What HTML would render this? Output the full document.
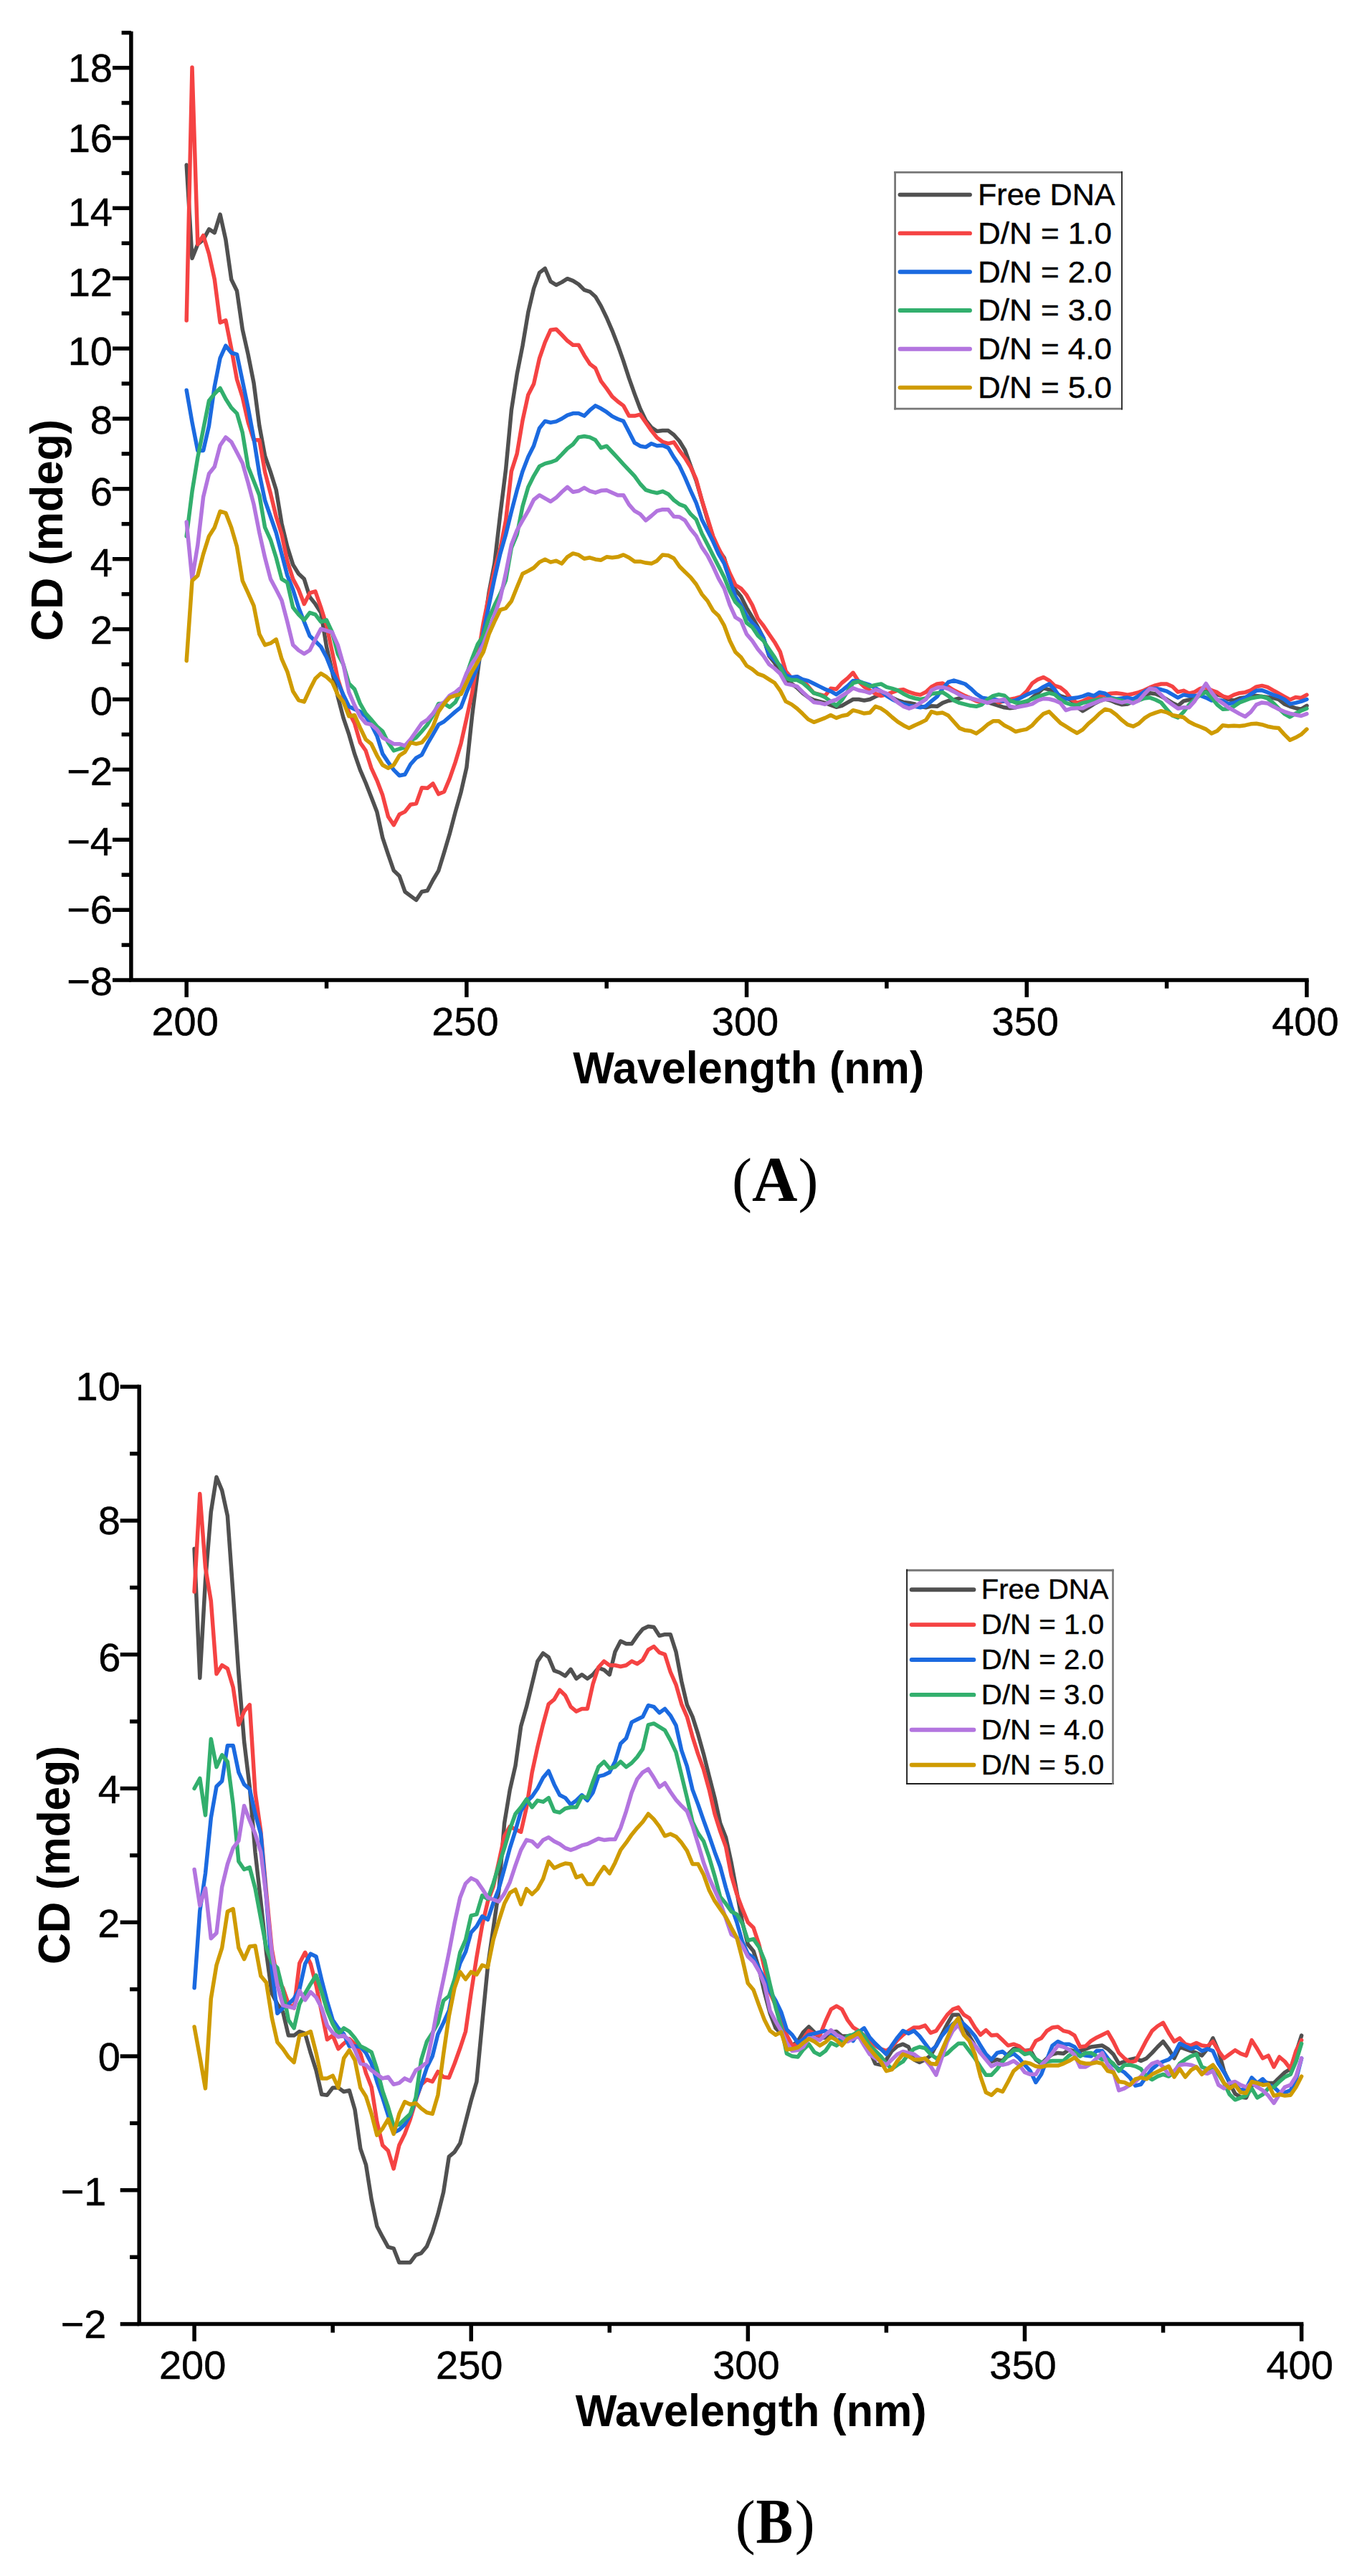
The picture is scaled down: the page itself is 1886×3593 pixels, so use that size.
<!DOCTYPE html><html><head><meta charset="utf-8"><title>CD spectra</title><style>html,body{margin:0;padding:0;background:#fff}svg{display:block}</style></head><body>
<svg xmlns="http://www.w3.org/2000/svg" width="1886" height="3593" viewBox="0 0 1886 3593">
<rect width="1886" height="3593" fill="#fff"/>
<polyline fill="none" stroke="#505050" stroke-width="5.5" stroke-linejoin="round" stroke-linecap="round" points="260.2,230.1 268.0,360.3 275.8,340.7 283.6,334.4 291.5,319.7 299.3,324.6 307.1,299.1 314.9,334.4 322.7,389.7 330.5,405.8 338.3,459.7 346.1,494.4 354.0,534.1 361.8,593.8 369.6,635.9 377.4,658.4 385.2,683.3 393.0,730.3 400.8,762.6 408.7,787.6 416.5,800.3 424.3,807.6 432.1,832.6 439.9,842.4 447.7,854.6 455.5,902.1 463.4,936.8 471.2,971.6 479.0,1001.4 486.8,1024.4 494.6,1051.4 502.4,1073.9 510.2,1092.0 518.0,1112.0 525.9,1132.6 533.7,1168.3 541.5,1191.8 549.3,1214.3 557.1,1221.7 564.9,1243.7 572.7,1249.6 580.6,1255.4 588.4,1243.7 596.2,1242.2 604.0,1227.5 611.8,1214.3 619.6,1188.9 627.4,1162.5 635.2,1132.6 643.1,1104.7 650.9,1070.4 658.7,997.5 666.5,936.3 674.3,880.1 682.1,826.2 689.9,785.6 697.8,717.6 705.6,654.9 713.4,572.2 721.2,521.8 729.0,482.2 736.8,435.7 744.6,402.4 752.5,380.4 760.3,374.5 768.1,392.6 775.9,397.5 783.7,393.6 791.5,388.7 799.3,391.6 807.1,396.5 815.0,404.4 822.8,406.8 830.6,413.7 838.4,426.9 846.2,443.0 854.0,461.1 861.8,481.2 869.7,503.7 877.5,527.7 885.3,549.7 893.1,570.3 900.9,586.4 908.7,596.2 916.5,601.6 924.3,600.6 932.2,600.6 940.0,606.5 947.8,615.3 955.6,628.0 963.4,649.6 971.2,670.6 979.0,697.5 986.9,724.4 994.7,749.4 1002.5,767.0 1010.3,778.3 1018.1,805.7 1025.9,822.8 1033.7,832.1 1041.5,847.8 1049.4,861.0 1057.2,874.7 1065.0,889.9 1072.8,914.8 1080.6,924.6 1088.4,936.3 1096.2,947.6 1104.1,953.5 1111.9,959.3 1119.7,966.7 1127.5,972.6 1135.3,976.5 1143.1,978.4 1150.9,980.4 1158.8,983.3 1166.6,986.3 1174.4,984.3 1182.2,979.9 1190.0,975.5 1197.8,975.5 1205.6,977.0 1213.4,975.5 1221.3,971.6 1229.1,968.2 1236.9,968.6 1244.7,973.1 1252.5,977.0 1260.3,979.4 1268.1,980.4 1276.0,981.9 1283.8,985.3 1291.6,986.8 1299.4,984.8 1307.2,985.3 1315.0,980.4 1322.8,977.5 1330.6,976.0 1338.5,974.0 1346.3,971.6 1354.1,974.0 1361.9,977.0 1369.7,977.9 1377.5,979.4 1385.3,981.9 1393.2,984.3 1401.0,986.8 1408.8,987.7 1416.6,986.8 1424.4,982.8 1432.2,979.4 1440.0,973.1 1447.9,966.7 1455.7,959.8 1463.5,961.8 1471.3,965.7 1479.1,970.6 1486.9,973.1 1494.7,977.0 1502.5,986.3 1510.4,991.7 1518.2,986.8 1526.0,981.9 1533.8,977.9 1541.6,975.0 1549.4,977.0 1557.2,980.4 1565.1,982.8 1572.9,981.9 1580.7,978.4 1588.5,976.0 1596.3,970.6 1604.1,966.7 1611.9,967.7 1619.7,971.1 1627.6,975.5 1635.4,980.4 1643.2,984.3 1651.0,977.9 1658.8,976.0 1666.6,973.1 1674.4,968.2 1682.3,964.2 1690.1,965.7 1697.9,968.6 1705.7,971.1 1713.5,975.5 1721.3,977.0 1729.1,974.0 1737.0,972.6 1744.8,971.1 1752.6,970.6 1760.4,971.6 1768.2,972.6 1776.0,973.5 1783.8,975.5 1791.6,981.9 1799.5,985.3 1807.3,987.7 1815.1,989.2 1822.9,984.3"/>
<polyline fill="none" stroke="#F54343" stroke-width="5.5" stroke-linejoin="round" stroke-linecap="round" points="260.2,446.9 268.0,94.1 275.8,340.7 283.6,328.5 291.5,354.0 299.3,389.7 307.1,449.9 314.9,446.9 322.7,486.1 330.5,529.2 338.3,554.1 346.1,588.9 354.0,613.8 361.8,613.8 369.6,658.4 377.4,688.2 385.2,720.5 393.0,745.5 400.8,782.7 408.7,807.6 416.5,822.3 424.3,842.4 432.1,827.2 439.9,824.8 447.7,847.3 455.5,872.2 463.4,909.4 471.2,946.6 479.0,971.6 486.8,993.6 494.6,1008.8 502.4,1035.7 510.2,1047.0 518.0,1071.4 525.9,1088.6 533.7,1109.1 541.5,1139.0 549.3,1150.7 557.1,1136.0 564.9,1132.1 572.7,1122.3 580.6,1120.9 588.4,1098.8 596.2,1099.3 604.0,1093.0 611.8,1107.6 619.6,1104.2 627.4,1085.6 635.2,1063.1 643.1,1036.7 650.9,1001.9 658.7,965.7 666.5,916.3 674.3,868.8 682.1,830.6 689.9,794.4 697.8,765.5 705.6,725.9 713.4,657.4 721.2,632.9 729.0,586.4 736.8,550.7 744.6,535.5 752.5,499.8 760.3,477.3 768.1,460.2 775.9,459.2 783.7,467.0 791.5,475.3 799.3,481.2 807.1,481.2 815.0,495.4 822.8,507.6 830.6,513.5 838.4,531.6 846.2,541.9 854.0,553.1 861.8,560.0 869.7,565.9 877.5,580.1 885.3,580.1 893.1,578.1 900.9,589.4 908.7,600.6 916.5,610.4 924.3,616.3 932.2,618.7 940.0,616.8 947.8,628.5 955.6,638.8 963.4,651.5 971.2,668.6 979.0,697.5 986.9,722.5 994.7,747.9 1002.5,765.1 1010.3,780.2 1018.1,799.8 1025.9,816.0 1033.7,820.8 1041.5,830.1 1049.4,843.9 1057.2,862.9 1065.0,872.7 1072.8,884.5 1080.6,895.7 1088.4,909.4 1096.2,936.3 1104.1,945.6 1111.9,943.7 1119.7,948.6 1127.5,957.4 1135.3,966.7 1143.1,968.6 1150.9,970.6 1158.8,960.3 1166.6,961.3 1174.4,952.5 1182.2,946.1 1190.0,938.3 1197.8,950.5 1205.6,957.9 1213.4,962.8 1221.3,967.7 1229.1,970.6 1236.9,968.6 1244.7,965.7 1252.5,962.8 1260.3,961.8 1268.1,965.2 1276.0,967.7 1283.8,969.1 1291.6,965.2 1299.4,957.9 1307.2,954.0 1315.0,953.0 1322.8,957.9 1330.6,962.8 1338.5,966.7 1346.3,970.6 1354.1,974.0 1361.9,977.9 1369.7,979.9 1377.5,975.5 1385.3,975.0 1393.2,979.9 1401.0,977.9 1408.8,975.5 1416.6,974.0 1424.4,971.6 1432.2,964.2 1440.0,953.0 1447.9,947.6 1455.7,944.7 1463.5,949.1 1471.3,956.4 1479.1,958.9 1486.9,965.2 1494.7,975.5 1502.5,980.4 1510.4,977.9 1518.2,974.0 1526.0,973.1 1533.8,971.1 1541.6,969.1 1549.4,967.2 1557.2,966.7 1565.1,967.7 1572.9,969.1 1580.7,967.7 1588.5,965.7 1596.3,962.8 1604.1,958.9 1611.9,955.9 1619.7,954.0 1627.6,954.0 1635.4,957.4 1643.2,965.2 1651.0,963.3 1658.8,967.2 1666.6,965.2 1674.4,960.3 1682.3,958.4 1690.1,962.8 1697.9,965.7 1705.7,971.1 1713.5,973.1 1721.3,969.1 1729.1,966.7 1737.0,965.7 1744.8,962.8 1752.6,957.9 1760.4,956.4 1768.2,958.4 1776.0,962.8 1783.8,967.2 1791.6,971.6 1799.5,976.0 1807.3,972.6 1815.1,973.5 1822.9,969.1"/>
<polyline fill="none" stroke="#1B6AE0" stroke-width="5.5" stroke-linejoin="round" stroke-linecap="round" points="260.2,544.3 268.0,588.9 275.8,628.5 283.6,628.5 291.5,593.8 299.3,539.0 307.1,499.3 314.9,482.2 322.7,492.0 330.5,494.4 338.3,531.6 346.1,568.8 354.0,611.4 361.8,660.8 369.6,698.0 377.4,720.5 385.2,743.0 393.0,772.9 400.8,802.7 408.7,822.3 416.5,847.3 424.3,867.3 432.1,886.9 439.9,894.3 447.7,902.1 455.5,916.8 463.4,936.8 471.2,951.5 479.0,969.1 486.8,985.3 494.6,989.2 502.4,992.6 510.2,999.5 518.0,1010.7 525.9,1026.4 533.7,1051.4 541.5,1063.1 549.3,1073.9 557.1,1081.7 564.9,1080.2 572.7,1066.0 580.6,1057.2 588.4,1052.8 596.2,1037.7 604.0,1024.4 611.8,1010.7 619.6,1006.3 627.4,999.5 635.2,992.6 643.1,986.3 650.9,965.7 658.7,947.6 666.5,929.5 674.3,882.0 682.1,843.9 689.9,806.7 697.8,772.4 705.6,745.5 713.4,713.7 721.2,683.8 729.0,657.4 736.8,637.3 744.6,621.7 752.5,597.2 760.3,587.4 768.1,589.4 775.9,587.9 783.7,584.0 791.5,579.1 799.3,576.6 807.1,576.6 815.0,580.1 822.8,572.2 830.6,565.9 838.4,569.8 846.2,574.7 854.0,580.6 861.8,584.5 869.7,587.4 877.5,602.6 885.3,617.7 893.1,622.2 900.9,623.6 908.7,618.7 916.5,621.7 924.3,621.2 932.2,624.6 940.0,637.8 947.8,649.6 955.6,666.2 963.4,684.3 971.2,701.4 979.0,724.4 986.9,740.1 994.7,755.3 1002.5,772.9 1010.3,786.1 1018.1,809.1 1025.9,832.1 1033.7,843.9 1041.5,859.0 1049.4,868.8 1057.2,876.6 1065.0,889.9 1072.8,913.3 1080.6,920.7 1088.4,928.5 1096.2,941.7 1104.1,944.7 1111.9,943.7 1119.7,947.6 1127.5,949.6 1135.3,953.5 1143.1,957.4 1150.9,961.3 1158.8,964.2 1166.6,968.6 1174.4,963.3 1182.2,956.9 1190.0,949.6 1197.8,950.1 1205.6,953.0 1213.4,955.4 1221.3,959.8 1229.1,964.2 1236.9,970.6 1244.7,975.5 1252.5,979.4 1260.3,981.9 1268.1,984.3 1276.0,985.3 1283.8,986.8 1291.6,984.8 1299.4,977.9 1307.2,971.6 1315.0,960.3 1322.8,951.5 1330.6,949.1 1338.5,951.5 1346.3,954.0 1354.1,960.3 1361.9,967.7 1369.7,973.1 1377.5,974.5 1385.3,975.0 1393.2,977.0 1401.0,977.9 1408.8,977.9 1416.6,977.0 1424.4,973.1 1432.2,969.1 1440.0,965.7 1447.9,962.8 1455.7,957.9 1463.5,954.0 1471.3,961.8 1479.1,973.1 1486.9,975.0 1494.7,974.0 1502.5,973.1 1510.4,971.1 1518.2,968.2 1526.0,970.6 1533.8,965.7 1541.6,967.2 1549.4,973.1 1557.2,975.0 1565.1,974.0 1572.9,973.1 1580.7,975.0 1588.5,970.6 1596.3,964.7 1604.1,960.8 1611.9,960.3 1619.7,961.8 1627.6,964.2 1635.4,968.6 1643.2,973.1 1651.0,969.1 1658.8,970.6 1666.6,970.6 1674.4,970.1 1682.3,973.1 1690.1,977.0 1697.9,976.0 1705.7,977.5 1713.5,981.9 1721.3,980.4 1729.1,977.0 1737.0,973.1 1744.8,968.2 1752.6,963.3 1760.4,962.8 1768.2,965.7 1776.0,969.1 1783.8,971.6 1791.6,975.5 1799.5,981.9 1807.3,980.4 1815.1,978.4 1822.9,975.5"/>
<polyline fill="none" stroke="#32AF6D" stroke-width="5.5" stroke-linejoin="round" stroke-linecap="round" points="260.2,747.9 268.0,685.8 275.8,638.3 283.6,598.7 291.5,559.0 299.3,549.2 307.1,541.4 314.9,556.6 322.7,568.8 330.5,576.6 338.3,603.6 346.1,651.0 354.0,671.1 361.8,690.7 369.6,735.7 377.4,752.8 385.2,777.8 393.0,807.6 400.8,812.5 408.7,847.3 416.5,857.1 424.3,864.9 432.1,854.6 439.9,857.1 447.7,867.3 455.5,864.9 463.4,882.0 471.2,911.9 479.0,927.0 486.8,953.5 494.6,961.3 502.4,981.4 510.2,995.1 518.0,1003.9 525.9,1013.2 533.7,1020.0 541.5,1035.7 549.3,1047.0 557.1,1044.5 564.9,1042.5 572.7,1033.2 580.6,1028.8 588.4,1020.0 596.2,1010.7 604.0,997.5 611.8,981.4 619.6,981.4 627.4,986.3 635.2,979.4 643.1,963.8 650.9,940.8 658.7,918.2 666.5,898.2 674.3,886.9 682.1,862.0 689.9,844.3 697.8,828.2 705.6,809.1 713.4,764.1 721.2,745.5 729.0,706.3 736.8,679.4 744.6,663.8 752.5,650.5 760.3,646.6 768.1,644.7 775.9,641.7 783.7,633.9 791.5,625.6 799.3,619.7 807.1,609.9 815.0,608.5 822.8,609.9 830.6,613.8 838.4,624.6 846.2,622.2 854.0,630.5 861.8,638.8 869.7,647.6 877.5,655.9 885.3,664.2 893.1,675.0 900.9,683.3 908.7,685.8 916.5,687.7 924.3,685.3 932.2,689.2 940.0,697.5 947.8,703.4 955.6,706.3 963.4,717.1 971.2,724.4 979.0,744.0 986.9,759.2 994.7,774.8 1002.5,790.0 1010.3,805.2 1018.1,824.8 1025.9,839.9 1033.7,847.8 1041.5,868.8 1049.4,874.7 1057.2,886.4 1065.0,893.8 1072.8,905.5 1080.6,916.8 1088.4,930.5 1096.2,945.6 1104.1,948.6 1111.9,948.6 1119.7,952.5 1127.5,959.3 1135.3,966.7 1143.1,969.1 1150.9,972.6 1158.8,978.4 1166.6,984.3 1174.4,976.5 1182.2,964.7 1190.0,952.5 1197.8,950.5 1205.6,953.5 1213.4,957.4 1221.3,955.4 1229.1,954.0 1236.9,958.4 1244.7,960.3 1252.5,962.8 1260.3,967.7 1268.1,971.6 1276.0,974.0 1283.8,975.5 1291.6,974.0 1299.4,967.7 1307.2,966.7 1315.0,965.7 1322.8,970.6 1330.6,977.0 1338.5,980.4 1346.3,982.4 1354.1,984.3 1361.9,985.3 1369.7,982.8 1377.5,975.5 1385.3,970.6 1393.2,968.6 1401.0,970.1 1408.8,977.0 1416.6,979.9 1424.4,979.9 1432.2,977.9 1440.0,975.0 1447.9,971.6 1455.7,969.1 1463.5,966.7 1471.3,968.6 1479.1,975.5 1486.9,980.4 1494.7,982.8 1502.5,983.8 1510.4,980.4 1518.2,978.9 1526.0,977.0 1533.8,975.5 1541.6,975.0 1549.4,974.5 1557.2,975.5 1565.1,977.5 1572.9,979.9 1580.7,979.4 1588.5,977.0 1596.3,974.0 1604.1,973.1 1611.9,976.0 1619.7,979.9 1627.6,989.2 1635.4,998.0 1643.2,1000.9 1651.0,993.1 1658.8,982.8 1666.6,975.5 1674.4,969.1 1682.3,965.2 1690.1,973.1 1697.9,982.8 1705.7,989.2 1713.5,988.7 1721.3,985.3 1729.1,979.9 1737.0,977.0 1744.8,974.0 1752.6,972.6 1760.4,971.6 1768.2,974.0 1776.0,980.4 1783.8,988.2 1791.6,995.6 1799.5,1000.0 1807.3,995.1 1815.1,991.2 1822.9,988.2"/>
<polyline fill="none" stroke="#B375DF" stroke-width="5.5" stroke-linejoin="round" stroke-linecap="round" points="260.2,727.9 268.0,807.6 275.8,760.2 283.6,693.1 291.5,660.8 299.3,651.0 307.1,621.2 314.9,609.9 322.7,616.3 330.5,631.0 338.3,646.1 346.1,673.5 354.0,703.4 361.8,743.0 369.6,777.8 377.4,807.6 385.2,822.3 393.0,837.5 400.8,867.3 408.7,899.6 416.5,907.0 424.3,911.9 432.1,907.0 439.9,891.8 447.7,877.1 455.5,879.6 463.4,882.0 471.2,899.6 479.0,927.0 486.8,965.7 494.6,983.8 502.4,999.5 510.2,1008.8 518.0,1010.7 525.9,1017.6 533.7,1028.8 541.5,1033.2 549.3,1037.7 557.1,1037.7 564.9,1040.1 572.7,1031.3 580.6,1020.0 588.4,1008.8 596.2,1003.9 604.0,995.1 611.8,983.8 619.6,979.4 627.4,970.1 635.2,965.7 643.1,958.9 650.9,938.8 658.7,925.1 666.5,913.8 674.3,898.2 682.1,878.1 689.9,857.6 697.8,835.0 705.6,799.3 713.4,759.7 721.2,739.6 729.0,725.9 736.8,712.7 744.6,697.0 752.5,690.7 760.3,695.1 768.1,699.5 775.9,694.1 783.7,686.3 791.5,679.4 799.3,686.3 807.1,684.8 815.0,680.4 822.8,684.8 830.6,687.2 838.4,684.3 846.2,683.8 854.0,687.2 861.8,690.7 869.7,690.7 877.5,703.9 885.3,712.7 893.1,717.1 900.9,725.9 908.7,719.5 916.5,712.7 924.3,710.7 932.2,710.7 940.0,720.5 947.8,721.0 955.6,725.9 963.4,738.1 971.2,747.4 979.0,763.1 986.9,774.8 994.7,790.0 1002.5,807.1 1010.3,820.8 1018.1,843.9 1025.9,861.0 1033.7,865.9 1041.5,884.5 1049.4,893.8 1057.2,905.5 1065.0,914.8 1072.8,926.6 1080.6,932.4 1088.4,939.8 1096.2,953.5 1104.1,955.4 1111.9,957.4 1119.7,965.2 1127.5,972.6 1135.3,979.4 1143.1,980.4 1150.9,982.4 1158.8,978.4 1166.6,976.0 1174.4,970.6 1182.2,965.7 1190.0,959.8 1197.8,962.8 1205.6,964.2 1213.4,966.7 1221.3,961.8 1229.1,964.2 1236.9,967.2 1244.7,973.1 1252.5,979.9 1260.3,985.3 1268.1,988.2 1276.0,985.3 1283.8,980.4 1291.6,975.5 1299.4,962.8 1307.2,959.3 1315.0,958.4 1322.8,960.8 1330.6,964.7 1338.5,969.1 1346.3,972.6 1354.1,974.0 1361.9,976.0 1369.7,977.9 1377.5,980.4 1385.3,977.5 1393.2,977.0 1401.0,975.5 1408.8,985.3 1416.6,986.8 1424.4,985.3 1432.2,983.8 1440.0,981.9 1447.9,977.0 1455.7,974.5 1463.5,975.0 1471.3,977.0 1479.1,980.4 1486.9,990.7 1494.7,988.2 1502.5,987.7 1510.4,987.7 1518.2,983.8 1526.0,980.9 1533.8,977.5 1541.6,975.5 1549.4,975.5 1557.2,977.9 1565.1,979.9 1572.9,977.9 1580.7,980.9 1588.5,977.0 1596.3,968.2 1604.1,960.3 1611.9,961.8 1619.7,969.1 1627.6,977.0 1635.4,982.8 1643.2,988.2 1651.0,986.8 1658.8,986.8 1666.6,977.9 1674.4,965.2 1682.3,953.5 1690.1,965.7 1697.9,975.5 1705.7,980.9 1713.5,986.8 1721.3,991.2 1729.1,995.6 1737.0,999.5 1744.8,993.1 1752.6,982.8 1760.4,979.9 1768.2,980.9 1776.0,985.3 1783.8,989.2 1791.6,992.6 1799.5,995.1 1807.3,997.0 1815.1,998.5 1822.9,995.6"/>
<polyline fill="none" stroke="#CF9B00" stroke-width="5.5" stroke-linejoin="round" stroke-linecap="round" points="260.2,921.7 268.0,810.1 275.8,802.7 283.6,772.9 291.5,747.9 299.3,735.7 307.1,713.2 314.9,715.6 322.7,735.7 330.5,762.6 338.3,810.1 346.1,827.2 354.0,844.8 361.8,884.5 369.6,899.6 377.4,897.2 385.2,891.8 393.0,919.2 400.8,936.8 408.7,964.2 416.5,976.5 424.3,978.9 432.1,961.8 439.9,946.6 447.7,939.3 455.5,944.2 463.4,951.5 471.2,969.1 479.0,978.9 486.8,999.0 494.6,997.5 502.4,1015.1 510.2,1031.3 518.0,1037.7 525.9,1053.8 533.7,1067.0 541.5,1071.4 549.3,1067.0 557.1,1053.8 564.9,1048.9 572.7,1035.7 580.6,1037.7 588.4,1035.7 596.2,1026.4 604.0,1013.2 611.8,992.6 619.6,981.4 627.4,972.6 635.2,970.1 643.1,968.2 650.9,952.0 658.7,936.3 666.5,923.1 674.3,909.4 682.1,884.5 689.9,866.9 697.8,850.7 705.6,848.3 713.4,838.5 721.2,818.9 729.0,800.3 736.8,796.4 744.6,792.0 752.5,784.1 760.3,780.2 768.1,784.1 775.9,782.2 783.7,786.1 791.5,776.8 799.3,771.9 807.1,773.9 815.0,779.3 822.8,777.8 830.6,780.2 838.4,781.2 846.2,776.8 854.0,777.8 861.8,776.8 869.7,773.9 877.5,777.8 885.3,783.2 893.1,783.2 900.9,785.1 908.7,786.1 916.5,782.2 924.3,773.9 932.2,774.8 940.0,778.8 947.8,790.0 955.6,797.8 963.4,805.2 971.2,815.0 979.0,828.7 986.9,838.0 994.7,851.7 1002.5,859.0 1010.3,872.7 1018.1,893.8 1025.9,909.4 1033.7,916.8 1041.5,928.5 1049.4,933.4 1057.2,939.8 1065.0,942.7 1072.8,947.6 1080.6,952.5 1088.4,963.3 1096.2,978.4 1104.1,982.4 1111.9,988.2 1119.7,995.6 1127.5,1003.4 1135.3,1007.3 1143.1,1004.4 1150.9,1001.4 1158.8,997.5 1166.6,1001.4 1174.4,998.5 1182.2,997.0 1190.0,990.7 1197.8,992.6 1205.6,995.1 1213.4,994.1 1221.3,985.3 1229.1,988.2 1236.9,993.6 1244.7,1000.5 1252.5,1006.8 1260.3,1011.7 1268.1,1015.6 1276.0,1011.7 1283.8,1008.3 1291.6,1004.4 1299.4,992.6 1307.2,995.1 1315.0,994.1 1322.8,998.0 1330.6,1006.8 1338.5,1015.6 1346.3,1018.6 1354.1,1019.5 1361.9,1023.0 1369.7,1017.6 1377.5,1010.7 1385.3,1005.8 1393.2,1005.8 1401.0,1011.7 1408.8,1015.6 1416.6,1020.5 1424.4,1018.6 1432.2,1017.1 1440.0,1011.7 1447.9,1002.9 1455.7,995.6 1463.5,992.6 1471.3,1000.5 1479.1,1008.3 1486.9,1013.2 1494.7,1018.1 1502.5,1022.5 1510.4,1017.6 1518.2,1009.3 1526.0,1002.9 1533.8,995.1 1541.6,989.2 1549.4,991.2 1557.2,997.0 1565.1,1004.4 1572.9,1010.7 1580.7,1013.2 1588.5,1009.3 1596.3,1001.9 1604.1,997.0 1611.9,994.1 1619.7,991.7 1627.6,993.6 1635.4,997.5 1643.2,999.0 1651.0,1000.5 1658.8,1006.8 1666.6,1010.7 1674.4,1013.7 1682.3,1017.1 1690.1,1023.0 1697.9,1019.5 1705.7,1011.7 1713.5,1012.7 1721.3,1012.2 1729.1,1012.7 1737.0,1011.7 1744.8,1009.8 1752.6,1009.3 1760.4,1010.7 1768.2,1013.2 1776.0,1014.7 1783.8,1015.6 1791.6,1024.4 1799.5,1032.3 1807.3,1028.8 1815.1,1024.4 1822.9,1017.1"/>
<path d="M182.9,43.70 V1369.75 M180.15,1367.0 H1825.65" stroke="#000" stroke-width="5.5" fill="none"/>
<path d="M157.0,1367.02 H182.9" stroke="#000" stroke-width="5.5"/>
<path d="M169.6,1318.08 H182.9" stroke="#000" stroke-width="5.5"/>
<path d="M157.0,1269.14 H182.9" stroke="#000" stroke-width="5.5"/>
<path d="M169.6,1220.20 H182.9" stroke="#000" stroke-width="5.5"/>
<path d="M157.0,1171.26 H182.9" stroke="#000" stroke-width="5.5"/>
<path d="M169.6,1122.32 H182.9" stroke="#000" stroke-width="5.5"/>
<path d="M157.0,1073.38 H182.9" stroke="#000" stroke-width="5.5"/>
<path d="M169.6,1024.44 H182.9" stroke="#000" stroke-width="5.5"/>
<path d="M157.0,975.50 H182.9" stroke="#000" stroke-width="5.5"/>
<path d="M169.6,926.56 H182.9" stroke="#000" stroke-width="5.5"/>
<path d="M157.0,877.62 H182.9" stroke="#000" stroke-width="5.5"/>
<path d="M169.6,828.68 H182.9" stroke="#000" stroke-width="5.5"/>
<path d="M157.0,779.74 H182.9" stroke="#000" stroke-width="5.5"/>
<path d="M169.6,730.80 H182.9" stroke="#000" stroke-width="5.5"/>
<path d="M157.0,681.86 H182.9" stroke="#000" stroke-width="5.5"/>
<path d="M169.6,632.92 H182.9" stroke="#000" stroke-width="5.5"/>
<path d="M157.0,583.98 H182.9" stroke="#000" stroke-width="5.5"/>
<path d="M169.6,535.04 H182.9" stroke="#000" stroke-width="5.5"/>
<path d="M157.0,486.10 H182.9" stroke="#000" stroke-width="5.5"/>
<path d="M169.6,437.16 H182.9" stroke="#000" stroke-width="5.5"/>
<path d="M157.0,388.22 H182.9" stroke="#000" stroke-width="5.5"/>
<path d="M169.6,339.28 H182.9" stroke="#000" stroke-width="5.5"/>
<path d="M157.0,290.34 H182.9" stroke="#000" stroke-width="5.5"/>
<path d="M169.6,241.40 H182.9" stroke="#000" stroke-width="5.5"/>
<path d="M157.0,192.46 H182.9" stroke="#000" stroke-width="5.5"/>
<path d="M169.6,143.52 H182.9" stroke="#000" stroke-width="5.5"/>
<path d="M157.0,94.58 H182.9" stroke="#000" stroke-width="5.5"/>
<path d="M169.6,45.64 H182.9" stroke="#000" stroke-width="5.5"/>
<path d="M260.20,1367.0 V1390.9" stroke="#000" stroke-width="5.5"/>
<path d="M455.54,1367.0 V1378.7" stroke="#000" stroke-width="5.5"/>
<path d="M650.88,1367.0 V1390.9" stroke="#000" stroke-width="5.5"/>
<path d="M846.21,1367.0 V1378.7" stroke="#000" stroke-width="5.5"/>
<path d="M1041.55,1367.0 V1390.9" stroke="#000" stroke-width="5.5"/>
<path d="M1236.89,1367.0 V1378.7" stroke="#000" stroke-width="5.5"/>
<path d="M1432.23,1367.0 V1390.9" stroke="#000" stroke-width="5.5"/>
<path d="M1627.56,1367.0 V1378.7" stroke="#000" stroke-width="5.5"/>
<path d="M1822.90,1367.0 V1390.9" stroke="#000" stroke-width="5.5"/>
<text x="157.00" y="113.70" text-anchor="end" font-family="'Liberation Sans', Arial, sans-serif" font-size="56" stroke="#000" stroke-width="0.45">18</text>
<text x="157.00" y="211.70" text-anchor="end" font-family="'Liberation Sans', Arial, sans-serif" font-size="56" stroke="#000" stroke-width="0.45">16</text>
<text x="157.00" y="314.70" text-anchor="end" font-family="'Liberation Sans', Arial, sans-serif" font-size="56" stroke="#000" stroke-width="0.45">14</text>
<text x="157.00" y="413.20" text-anchor="end" font-family="'Liberation Sans', Arial, sans-serif" font-size="56" stroke="#000" stroke-width="0.45">12</text>
<text x="157.00" y="509.40" text-anchor="end" font-family="'Liberation Sans', Arial, sans-serif" font-size="56" stroke="#000" stroke-width="0.45">10</text>
<text x="157.00" y="605.40" text-anchor="end" font-family="'Liberation Sans', Arial, sans-serif" font-size="56" stroke="#000" stroke-width="0.45">8</text>
<text x="157.00" y="704.80" text-anchor="end" font-family="'Liberation Sans', Arial, sans-serif" font-size="56" stroke="#000" stroke-width="0.45">6</text>
<text x="157.00" y="803.70" text-anchor="end" font-family="'Liberation Sans', Arial, sans-serif" font-size="56" stroke="#000" stroke-width="0.45">4</text>
<text x="157.00" y="897.70" text-anchor="end" font-family="'Liberation Sans', Arial, sans-serif" font-size="56" stroke="#000" stroke-width="0.45">2</text>
<text x="157.00" y="997.20" text-anchor="end" font-family="'Liberation Sans', Arial, sans-serif" font-size="56" stroke="#000" stroke-width="0.45">0</text>
<text x="157.00" y="1094.90" text-anchor="end" font-family="'Liberation Sans', Arial, sans-serif" font-size="56" stroke="#000" stroke-width="0.45">−2</text>
<text x="157.00" y="1193.20" text-anchor="end" font-family="'Liberation Sans', Arial, sans-serif" font-size="56" stroke="#000" stroke-width="0.45">−4</text>
<text x="157.00" y="1288.40" text-anchor="end" font-family="'Liberation Sans', Arial, sans-serif" font-size="56" stroke="#000" stroke-width="0.45">−6</text>
<text x="157.00" y="1387.70" text-anchor="end" font-family="'Liberation Sans', Arial, sans-serif" font-size="56" stroke="#000" stroke-width="0.45">−8</text>
<text x="258.20" y="1443.50" text-anchor="middle" font-family="'Liberation Sans', Arial, sans-serif" font-size="56" stroke="#000" stroke-width="0.45">200</text>
<text x="648.88" y="1443.50" text-anchor="middle" font-family="'Liberation Sans', Arial, sans-serif" font-size="56" stroke="#000" stroke-width="0.45">250</text>
<text x="1039.55" y="1443.50" text-anchor="middle" font-family="'Liberation Sans', Arial, sans-serif" font-size="56" stroke="#000" stroke-width="0.45">300</text>
<text x="1430.23" y="1443.50" text-anchor="middle" font-family="'Liberation Sans', Arial, sans-serif" font-size="56" stroke="#000" stroke-width="0.45">350</text>
<text x="1820.90" y="1443.50" text-anchor="middle" font-family="'Liberation Sans', Arial, sans-serif" font-size="56" stroke="#000" stroke-width="0.45">400</text>
<text x="799.30" y="1511.20" font-family="'Liberation Sans', Arial, sans-serif" font-weight="bold" font-size="63" textLength="490" lengthAdjust="spacingAndGlyphs">Wavelength (nm)</text>
<text transform="translate(87.40,893.90) rotate(-90)" font-family="'Liberation Sans', Arial, sans-serif" font-weight="bold" font-size="63" textLength="309" lengthAdjust="spacingAndGlyphs">CD (mdeg)</text>
<rect x="1248.60" y="240.30" width="316.40" height="329.90" fill="#fff"/>
<path d="M1247.20,240.30 H1565.95" stroke="#777" stroke-width="2.8"/>
<path d="M1247.20,570.20 H1565.95" stroke="#777" stroke-width="2.7"/>
<path d="M1248.60,238.90 V571.55" stroke="#777" stroke-width="2.8"/>
<path d="M1565.00,238.90 V571.55" stroke="#2b2b2b" stroke-width="1.9"/>
<path d="M1255.5,271.6 H1353" stroke="#505050" stroke-width="5.9" stroke-linecap="round"/>
<text x="1364.00" y="285.9" font-family="'Liberation Sans', Arial, sans-serif" font-size="43" stroke="#000" stroke-width="0.4" textLength="191.5" lengthAdjust="spacingAndGlyphs">Free DNA</text>
<path d="M1255.5,325.4 H1353" stroke="#F54343" stroke-width="5.9" stroke-linecap="round"/>
<text x="1364.00" y="339.7" font-family="'Liberation Sans', Arial, sans-serif" font-size="43" stroke="#000" stroke-width="0.4" textLength="187" lengthAdjust="spacingAndGlyphs">D/N = 1.0</text>
<path d="M1255.5,379.2 H1353" stroke="#1B6AE0" stroke-width="5.9" stroke-linecap="round"/>
<text x="1364.00" y="393.5" font-family="'Liberation Sans', Arial, sans-serif" font-size="43" stroke="#000" stroke-width="0.4" textLength="187" lengthAdjust="spacingAndGlyphs">D/N = 2.0</text>
<path d="M1255.5,433.0 H1353" stroke="#32AF6D" stroke-width="5.9" stroke-linecap="round"/>
<text x="1364.00" y="447.3" font-family="'Liberation Sans', Arial, sans-serif" font-size="43" stroke="#000" stroke-width="0.4" textLength="187" lengthAdjust="spacingAndGlyphs">D/N = 3.0</text>
<path d="M1255.5,486.8 H1353" stroke="#B375DF" stroke-width="5.9" stroke-linecap="round"/>
<text x="1364.00" y="501.1" font-family="'Liberation Sans', Arial, sans-serif" font-size="43" stroke="#000" stroke-width="0.4" textLength="187" lengthAdjust="spacingAndGlyphs">D/N = 4.0</text>
<path d="M1255.5,540.6 H1353" stroke="#CF9B00" stroke-width="5.9" stroke-linecap="round"/>
<text x="1364.00" y="554.9" font-family="'Liberation Sans', Arial, sans-serif" font-size="43" stroke="#000" stroke-width="0.4" textLength="187" lengthAdjust="spacingAndGlyphs">D/N = 5.0</text>
<text x="1021.10" y="1673.90" font-family="'Liberation Serif', 'Times New Roman', serif" font-size="84">(</text>
<text x="1049.00" y="1673.90" font-family="'Liberation Serif', 'Times New Roman', serif" font-weight="bold" font-size="88" textLength="63.5" lengthAdjust="spacingAndGlyphs">A</text>
<text x="1113.60" y="1673.90" font-family="'Liberation Serif', 'Times New Roman', serif" font-size="84">)</text>
<polyline fill="none" stroke="#505050" stroke-width="5.5" stroke-linejoin="round" stroke-linecap="round" points="271.1,2160.2 278.8,2340.4 286.5,2205.0 294.3,2108.8 302.0,2060.3 309.7,2078.9 317.4,2114.4 325.2,2223.7 332.9,2334.8 340.6,2429.1 348.3,2492.6 356.0,2583.2 363.8,2652.3 371.5,2723.3 379.2,2780.3 386.9,2795.2 394.7,2806.4 402.4,2839.1 410.1,2839.1 417.8,2833.5 425.6,2836.3 433.3,2863.4 441.0,2887.7 448.7,2921.3 456.4,2922.2 464.2,2911.9 471.9,2911.9 479.6,2917.5 487.3,2915.7 495.1,2942.8 502.8,2996.9 510.5,3019.3 518.2,3067.9 525.9,3105.2 533.7,3120.2 541.4,3134.2 549.1,3136.1 556.8,3155.7 564.6,3155.7 572.3,3155.7 580.0,3145.4 587.7,3142.6 595.4,3133.3 603.2,3113.7 610.9,3088.4 618.6,3057.6 626.3,3008.1 634.1,3001.6 641.8,2989.5 649.5,2959.6 657.2,2929.7 664.9,2903.5 672.7,2821.4 680.4,2742.9 688.1,2689.7 695.8,2637.4 703.6,2543.1 711.3,2496.4 719.0,2462.8 726.7,2407.7 734.5,2380.6 742.2,2348.8 749.9,2317.1 757.6,2305.9 765.3,2311.5 773.1,2330.2 780.8,2333.0 788.5,2337.6 796.2,2328.3 804.0,2341.4 811.7,2335.8 819.4,2341.4 827.1,2335.8 834.8,2326.4 842.6,2329.2 850.3,2335.8 858.0,2304.0 865.7,2289.1 873.5,2292.8 881.2,2292.8 888.9,2281.6 896.6,2272.3 904.3,2268.5 912.1,2269.5 919.8,2281.6 927.5,2279.7 935.2,2279.7 943.0,2304.0 950.7,2345.1 958.4,2377.8 966.1,2394.6 973.8,2418.9 981.6,2446.9 989.3,2477.7 997.0,2507.6 1004.7,2543.1 1012.5,2562.7 1020.2,2598.2 1027.9,2639.3 1035.6,2681.3 1043.3,2712.1 1051.1,2721.4 1058.8,2745.7 1066.5,2779.3 1074.2,2808.3 1082.0,2828.8 1089.7,2836.3 1097.4,2845.6 1105.1,2853.1 1112.9,2847.5 1120.6,2834.4 1128.3,2827.0 1136.0,2834.4 1143.7,2842.8 1151.5,2841.9 1159.2,2834.4 1166.9,2833.5 1174.6,2840.0 1182.4,2840.0 1190.1,2838.2 1197.8,2835.4 1205.5,2846.6 1213.2,2860.6 1221.0,2878.3 1228.7,2880.2 1236.4,2872.7 1244.1,2860.6 1251.9,2854.0 1259.6,2851.2 1267.3,2855.0 1275.0,2872.7 1282.7,2876.5 1290.5,2872.7 1298.2,2867.1 1305.9,2853.1 1313.6,2838.2 1321.4,2823.2 1329.1,2810.2 1336.8,2810.2 1344.5,2825.1 1352.2,2840.0 1360.0,2853.1 1367.7,2863.4 1375.4,2870.9 1383.1,2875.5 1390.9,2872.7 1398.6,2874.6 1406.3,2865.2 1414.0,2857.8 1421.8,2856.8 1429.5,2860.6 1437.2,2859.6 1444.9,2872.7 1452.6,2878.3 1460.4,2870.9 1468.1,2865.2 1475.8,2863.4 1483.5,2864.3 1491.3,2858.7 1499.0,2861.5 1506.7,2860.6 1514.4,2857.8 1522.1,2855.0 1529.9,2854.0 1537.6,2853.1 1545.3,2857.8 1553.0,2865.2 1560.8,2878.3 1568.5,2875.5 1576.2,2872.7 1583.9,2870.9 1591.6,2874.6 1599.4,2870.9 1607.1,2863.4 1614.8,2855.0 1622.5,2847.5 1630.3,2857.8 1638.0,2870.9 1645.7,2855.0 1653.4,2857.8 1661.2,2860.6 1668.9,2863.4 1676.6,2867.1 1684.3,2857.8 1692.0,2842.8 1699.8,2860.6 1707.5,2888.6 1715.2,2905.4 1722.9,2920.3 1730.7,2925.0 1738.4,2925.9 1746.1,2908.2 1753.8,2908.2 1761.5,2903.5 1769.3,2905.4 1777.0,2905.4 1784.7,2897.9 1792.4,2890.5 1800.2,2885.8 1807.9,2863.4 1815.6,2839.1"/>
<polyline fill="none" stroke="#F54343" stroke-width="5.5" stroke-linejoin="round" stroke-linecap="round" points="271.1,2220.0 278.8,2083.6 286.5,2186.3 294.3,2233.0 302.0,2334.8 309.7,2322.7 317.4,2327.4 325.2,2353.5 332.9,2405.8 340.6,2387.1 348.3,2377.8 356.0,2500.1 363.8,2554.3 371.5,2639.3 379.2,2718.6 386.9,2760.7 394.7,2772.8 402.4,2795.2 410.1,2800.8 417.8,2738.2 425.6,2723.3 433.3,2739.2 441.0,2769.1 448.7,2806.4 456.4,2844.7 464.2,2839.1 471.9,2857.8 479.6,2850.3 487.3,2843.8 495.1,2851.2 502.8,2864.3 510.5,2891.4 518.2,2911.0 525.9,2959.6 533.7,2992.3 541.4,2999.7 549.1,3024.9 556.8,2992.3 564.6,2976.4 572.3,2955.8 580.0,2929.7 587.7,2907.3 595.4,2900.7 603.2,2903.5 610.9,2889.5 618.6,2897.0 626.3,2897.9 634.1,2878.3 641.8,2856.8 649.5,2833.5 657.2,2779.3 664.9,2729.8 672.7,2685.0 680.4,2652.3 688.1,2631.8 695.8,2597.2 703.6,2560.8 711.3,2547.7 719.0,2551.5 726.7,2555.2 734.5,2520.7 742.2,2472.1 749.9,2436.6 757.6,2404.9 765.3,2376.8 773.1,2370.3 780.8,2357.2 788.5,2364.7 796.2,2380.6 804.0,2387.1 811.7,2383.4 819.4,2383.4 827.1,2348.8 834.8,2325.5 842.6,2317.1 850.3,2322.7 858.0,2322.7 865.7,2324.5 873.5,2322.7 881.2,2317.1 888.9,2320.8 896.6,2315.2 904.3,2301.2 912.1,2296.5 919.8,2304.9 927.5,2307.7 935.2,2332.0 943.0,2349.8 950.7,2376.8 958.4,2394.6 966.1,2422.6 973.8,2446.9 981.6,2468.4 989.3,2496.4 997.0,2530.0 1004.7,2554.3 1012.5,2575.8 1020.2,2615.9 1027.9,2642.1 1035.6,2662.6 1043.3,2681.3 1051.1,2688.8 1058.8,2712.1 1066.5,2745.7 1074.2,2779.3 1082.0,2797.1 1089.7,2815.8 1097.4,2838.2 1105.1,2853.1 1112.9,2851.2 1120.6,2843.8 1128.3,2832.6 1136.0,2837.2 1143.7,2839.1 1151.5,2819.5 1159.2,2802.7 1166.9,2798.0 1174.6,2802.7 1182.4,2817.6 1190.1,2827.9 1197.8,2832.6 1205.5,2839.1 1213.2,2846.6 1221.0,2853.1 1228.7,2857.8 1236.4,2860.6 1244.1,2855.0 1251.9,2845.6 1259.6,2838.2 1267.3,2832.6 1275.0,2827.9 1282.7,2827.9 1290.5,2825.1 1298.2,2835.4 1305.9,2832.6 1313.6,2821.4 1321.4,2810.2 1329.1,2802.7 1336.8,2799.9 1344.5,2810.2 1352.2,2814.8 1360.0,2827.9 1367.7,2838.2 1375.4,2831.6 1383.1,2839.1 1390.9,2838.2 1398.6,2845.6 1406.3,2853.1 1414.0,2851.2 1421.8,2854.0 1429.5,2860.6 1437.2,2860.6 1444.9,2846.6 1452.6,2842.8 1460.4,2832.6 1468.1,2827.9 1475.8,2827.0 1483.5,2832.6 1491.3,2834.4 1499.0,2839.1 1506.7,2855.0 1514.4,2854.0 1522.1,2846.6 1529.9,2841.9 1537.6,2838.2 1545.3,2834.4 1553.0,2847.5 1560.8,2863.4 1568.5,2870.9 1576.2,2876.5 1583.9,2874.6 1591.6,2860.6 1599.4,2845.6 1607.1,2832.6 1614.8,2826.0 1622.5,2821.4 1630.3,2835.4 1638.0,2847.5 1645.7,2842.8 1653.4,2851.2 1661.2,2853.1 1668.9,2849.4 1676.6,2853.1 1684.3,2854.0 1692.0,2847.5 1699.8,2860.6 1707.5,2870.9 1715.2,2865.2 1722.9,2859.6 1730.7,2864.3 1738.4,2867.1 1746.1,2845.6 1753.8,2857.8 1761.5,2870.9 1769.3,2867.1 1777.0,2883.0 1784.7,2869.0 1792.4,2875.5 1800.2,2885.8 1807.9,2860.6 1815.6,2845.6"/>
<polyline fill="none" stroke="#1B6AE0" stroke-width="5.5" stroke-linejoin="round" stroke-linecap="round" points="271.1,2772.8 278.8,2665.4 286.5,2613.1 294.3,2535.6 302.0,2491.7 309.7,2484.2 317.4,2434.7 325.2,2434.7 332.9,2472.1 340.6,2488.9 348.3,2495.4 356.0,2530.0 363.8,2558.0 371.5,2646.7 379.2,2746.6 386.9,2808.3 394.7,2800.8 402.4,2795.2 410.1,2787.7 417.8,2774.7 425.6,2739.2 433.3,2725.2 441.0,2728.9 448.7,2761.6 456.4,2791.5 464.2,2817.6 471.9,2828.8 479.6,2837.2 487.3,2854.0 495.1,2854.0 502.8,2855.0 510.5,2863.4 518.2,2878.3 525.9,2903.5 533.7,2925.9 541.4,2950.2 549.1,2974.5 556.8,2970.8 564.6,2963.3 572.3,2950.2 580.0,2927.8 587.7,2907.3 595.4,2883.9 603.2,2868.1 610.9,2837.2 618.6,2821.4 626.3,2804.5 634.1,2765.3 641.8,2738.2 649.5,2722.4 657.2,2695.3 664.9,2686.9 672.7,2672.9 680.4,2677.5 688.1,2654.2 695.8,2634.6 703.6,2606.6 711.3,2577.6 719.0,2553.3 726.7,2526.3 734.5,2513.2 742.2,2505.7 749.9,2494.5 757.6,2479.6 765.3,2470.2 773.1,2488.9 780.8,2503.8 788.5,2507.6 796.2,2516.9 804.0,2511.3 811.7,2503.8 819.4,2511.3 827.1,2500.1 834.8,2477.7 842.6,2475.8 850.3,2472.1 858.0,2457.2 865.7,2431.9 873.5,2424.5 881.2,2402.1 888.9,2398.3 896.6,2394.6 904.3,2378.7 912.1,2380.6 919.8,2389.0 927.5,2383.4 935.2,2392.7 943.0,2406.7 950.7,2441.3 958.4,2463.7 966.1,2496.4 973.8,2516.9 981.6,2539.3 989.3,2560.8 997.0,2583.2 1004.7,2603.8 1012.5,2632.7 1020.2,2658.9 1027.9,2681.3 1035.6,2708.4 1043.3,2725.2 1051.1,2730.8 1058.8,2745.7 1066.5,2760.7 1074.2,2777.5 1082.0,2790.5 1089.7,2806.4 1097.4,2830.7 1105.1,2838.2 1112.9,2849.4 1120.6,2844.7 1128.3,2838.2 1136.0,2836.3 1143.7,2834.4 1151.5,2832.6 1159.2,2837.2 1166.9,2845.6 1174.6,2845.6 1182.4,2841.9 1190.1,2846.6 1197.8,2834.4 1205.5,2828.8 1213.2,2841.9 1221.0,2850.3 1228.7,2857.8 1236.4,2865.2 1244.1,2853.1 1251.9,2841.9 1259.6,2832.6 1267.3,2836.3 1275.0,2832.6 1282.7,2840.0 1290.5,2850.3 1298.2,2860.6 1305.9,2854.0 1313.6,2840.0 1321.4,2830.7 1329.1,2823.2 1336.8,2817.6 1344.5,2823.2 1352.2,2830.7 1360.0,2840.0 1367.7,2853.1 1375.4,2865.2 1383.1,2872.7 1390.9,2863.4 1398.6,2861.5 1406.3,2868.1 1414.0,2864.3 1421.8,2870.9 1429.5,2880.2 1437.2,2888.6 1444.9,2904.5 1452.6,2893.3 1460.4,2872.7 1468.1,2853.1 1475.8,2847.5 1483.5,2851.2 1491.3,2851.2 1499.0,2855.0 1506.7,2865.2 1514.4,2867.1 1522.1,2868.1 1529.9,2860.6 1537.6,2860.6 1545.3,2870.9 1553.0,2880.2 1560.8,2885.8 1568.5,2890.5 1576.2,2897.9 1583.9,2909.1 1591.6,2907.3 1599.4,2896.1 1607.1,2885.8 1614.8,2879.3 1622.5,2875.5 1630.3,2872.7 1638.0,2865.2 1645.7,2850.3 1653.4,2854.0 1661.2,2857.8 1668.9,2855.0 1676.6,2860.6 1684.3,2857.8 1692.0,2860.6 1699.8,2878.3 1707.5,2890.5 1715.2,2903.5 1722.9,2908.2 1730.7,2915.7 1738.4,2912.9 1746.1,2897.9 1753.8,2905.4 1761.5,2899.8 1769.3,2908.2 1777.0,2911.0 1784.7,2918.5 1792.4,2918.5 1800.2,2915.7 1807.9,2900.7 1815.6,2870.9"/>
<polyline fill="none" stroke="#32AF6D" stroke-width="5.5" stroke-linejoin="round" stroke-linecap="round" points="271.1,2494.5 278.8,2480.5 286.5,2531.9 294.3,2425.4 302.0,2464.6 309.7,2447.8 317.4,2457.2 325.2,2516.9 332.9,2596.3 340.6,2607.5 348.3,2604.7 356.0,2633.7 363.8,2675.7 371.5,2716.8 379.2,2737.3 386.9,2744.8 394.7,2776.5 402.4,2817.6 410.1,2828.8 417.8,2795.2 425.6,2780.3 433.3,2767.2 441.0,2755.1 448.7,2778.4 456.4,2804.5 464.2,2823.2 471.9,2837.2 479.6,2828.8 487.3,2833.5 495.1,2842.8 502.8,2854.0 510.5,2857.8 518.2,2862.4 525.9,2885.8 533.7,2916.6 541.4,2939.0 549.1,2965.2 556.8,2963.3 564.6,2955.8 572.3,2948.4 580.0,2925.9 587.7,2872.7 595.4,2847.5 603.2,2835.4 610.9,2821.4 618.6,2790.5 626.3,2784.0 634.1,2760.7 641.8,2723.3 649.5,2705.6 657.2,2671.9 664.9,2670.1 672.7,2643.9 680.4,2648.6 688.1,2627.1 695.8,2601.9 703.6,2577.6 711.3,2551.5 719.0,2530.0 726.7,2520.7 734.5,2509.5 742.2,2520.7 749.9,2511.3 757.6,2513.2 765.3,2507.6 773.1,2526.3 780.8,2528.1 788.5,2522.5 796.2,2520.7 804.0,2520.7 811.7,2505.7 819.4,2507.6 827.1,2485.2 834.8,2464.6 842.6,2457.2 850.3,2466.5 858.0,2464.6 865.7,2457.2 873.5,2464.6 881.2,2459.0 888.9,2450.6 896.6,2439.4 904.3,2405.8 912.1,2403.9 919.8,2408.6 927.5,2413.3 935.2,2427.3 943.0,2444.1 950.7,2475.8 958.4,2507.6 966.1,2541.2 973.8,2557.1 981.6,2568.3 989.3,2590.7 997.0,2616.8 1004.7,2645.8 1012.5,2655.1 1020.2,2666.3 1027.9,2670.1 1035.6,2683.1 1043.3,2706.5 1051.1,2704.6 1058.8,2715.8 1066.5,2734.5 1074.2,2768.1 1082.0,2799.9 1089.7,2827.0 1097.4,2864.3 1105.1,2868.1 1112.9,2869.0 1120.6,2858.7 1128.3,2851.2 1136.0,2862.4 1143.7,2866.2 1151.5,2860.6 1159.2,2849.4 1166.9,2853.1 1174.6,2847.5 1182.4,2840.0 1190.1,2838.2 1197.8,2832.6 1205.5,2840.0 1213.2,2853.1 1221.0,2860.6 1228.7,2868.1 1236.4,2878.3 1244.1,2885.8 1251.9,2880.2 1259.6,2875.5 1267.3,2865.2 1275.0,2857.8 1282.7,2855.0 1290.5,2856.8 1298.2,2865.2 1305.9,2870.9 1313.6,2868.1 1321.4,2864.3 1329.1,2856.8 1336.8,2850.3 1344.5,2850.3 1352.2,2860.6 1360.0,2870.9 1367.7,2883.0 1375.4,2894.2 1383.1,2894.2 1390.9,2885.8 1398.6,2875.5 1406.3,2867.1 1414.0,2859.6 1421.8,2859.6 1429.5,2865.2 1437.2,2863.4 1444.9,2871.8 1452.6,2876.5 1460.4,2875.5 1468.1,2874.6 1475.8,2874.6 1483.5,2874.6 1491.3,2867.1 1499.0,2862.4 1506.7,2868.1 1514.4,2863.4 1522.1,2863.4 1529.9,2868.1 1537.6,2872.7 1545.3,2872.7 1553.0,2878.3 1560.8,2888.6 1568.5,2880.2 1576.2,2880.2 1583.9,2882.1 1591.6,2885.8 1599.4,2896.1 1607.1,2900.7 1614.8,2896.1 1622.5,2893.3 1630.3,2896.1 1638.0,2890.5 1645.7,2878.3 1653.4,2872.7 1661.2,2868.1 1668.9,2865.2 1676.6,2883.0 1684.3,2885.8 1692.0,2885.8 1699.8,2893.3 1707.5,2905.4 1715.2,2921.3 1722.9,2928.8 1730.7,2925.9 1738.4,2923.1 1746.1,2912.9 1753.8,2925.9 1761.5,2921.3 1769.3,2912.9 1777.0,2911.0 1784.7,2903.5 1792.4,2897.0 1800.2,2893.3 1807.9,2875.5 1815.6,2850.3"/>
<polyline fill="none" stroke="#B375DF" stroke-width="5.5" stroke-linejoin="round" stroke-linecap="round" points="271.1,2607.5 278.8,2657.9 286.5,2633.7 294.3,2703.7 302.0,2696.2 309.7,2631.8 317.4,2600.0 325.2,2577.6 332.9,2567.4 340.6,2518.8 348.3,2539.3 356.0,2558.0 363.8,2583.2 371.5,2646.7 379.2,2723.3 386.9,2769.1 394.7,2797.1 402.4,2798.9 410.1,2800.8 417.8,2776.5 425.6,2789.6 433.3,2778.4 441.0,2785.9 448.7,2800.8 456.4,2825.1 464.2,2835.4 471.9,2841.0 479.6,2839.1 487.3,2845.6 495.1,2859.6 502.8,2878.3 510.5,2880.2 518.2,2887.7 525.9,2893.3 533.7,2898.9 541.4,2897.0 549.1,2907.3 556.8,2905.4 564.6,2898.9 572.3,2902.6 580.0,2887.7 587.7,2883.0 595.4,2876.5 603.2,2839.1 610.9,2797.1 618.6,2760.7 626.3,2723.3 634.1,2682.2 641.8,2646.7 649.5,2627.1 657.2,2619.6 664.9,2623.4 672.7,2634.6 680.4,2646.7 688.1,2649.5 695.8,2652.3 703.6,2641.1 711.3,2625.2 719.0,2601.9 726.7,2580.4 734.5,2566.4 742.2,2568.3 749.9,2575.8 757.6,2566.4 765.3,2562.7 773.1,2568.3 780.8,2572.0 788.5,2577.6 796.2,2580.4 804.0,2577.6 811.7,2573.9 819.4,2572.0 827.1,2568.3 834.8,2564.5 842.6,2566.4 850.3,2565.5 858.0,2565.5 865.7,2549.6 873.5,2526.3 881.2,2500.1 888.9,2481.4 896.6,2472.1 904.3,2467.4 912.1,2479.6 919.8,2492.6 927.5,2487.0 935.2,2499.2 943.0,2510.4 950.7,2518.8 958.4,2526.3 966.1,2546.8 973.8,2572.0 981.6,2598.2 989.3,2619.6 997.0,2636.5 1004.7,2653.3 1012.5,2675.7 1020.2,2698.1 1027.9,2702.8 1035.6,2714.0 1043.3,2728.9 1051.1,2736.4 1058.8,2749.5 1066.5,2768.1 1074.2,2804.5 1082.0,2819.5 1089.7,2832.6 1097.4,2849.4 1105.1,2860.6 1112.9,2859.6 1120.6,2855.0 1128.3,2842.8 1136.0,2842.8 1143.7,2845.6 1151.5,2838.2 1159.2,2831.6 1166.9,2838.2 1174.6,2841.9 1182.4,2847.5 1190.1,2843.8 1197.8,2840.0 1205.5,2853.1 1213.2,2865.2 1221.0,2870.9 1228.7,2875.5 1236.4,2880.2 1244.1,2872.7 1251.9,2865.2 1259.6,2861.5 1267.3,2863.4 1275.0,2865.2 1282.7,2870.9 1290.5,2872.7 1298.2,2882.1 1305.9,2894.2 1313.6,2870.9 1321.4,2847.5 1329.1,2832.6 1336.8,2824.2 1344.5,2838.2 1352.2,2845.6 1360.0,2853.1 1367.7,2863.4 1375.4,2872.7 1383.1,2882.1 1390.9,2878.3 1398.6,2880.2 1406.3,2878.3 1414.0,2874.6 1421.8,2880.2 1429.5,2890.5 1437.2,2893.3 1444.9,2893.3 1452.6,2880.2 1460.4,2872.7 1468.1,2863.4 1475.8,2853.1 1483.5,2855.0 1491.3,2858.7 1499.0,2866.2 1506.7,2883.0 1514.4,2883.0 1522.1,2878.3 1529.9,2870.9 1537.6,2863.4 1545.3,2880.2 1553.0,2888.6 1560.8,2915.7 1568.5,2912.9 1576.2,2908.2 1583.9,2903.5 1591.6,2896.1 1599.4,2885.8 1607.1,2878.3 1614.8,2875.5 1622.5,2883.0 1630.3,2893.3 1638.0,2888.6 1645.7,2880.2 1653.4,2879.3 1661.2,2880.2 1668.9,2883.0 1676.6,2890.5 1684.3,2892.3 1692.0,2888.6 1699.8,2908.2 1707.5,2912.9 1715.2,2905.4 1722.9,2903.5 1730.7,2908.2 1738.4,2911.0 1746.1,2905.4 1753.8,2911.0 1761.5,2915.7 1769.3,2923.1 1777.0,2933.4 1784.7,2921.3 1792.4,2911.0 1800.2,2908.2 1807.9,2896.1 1815.6,2870.9"/>
<polyline fill="none" stroke="#CF9B00" stroke-width="5.5" stroke-linejoin="round" stroke-linecap="round" points="271.1,2827.0 278.8,2869.0 286.5,2912.9 294.3,2787.7 302.0,2741.0 309.7,2716.8 317.4,2666.3 325.2,2662.6 332.9,2716.8 340.6,2732.6 348.3,2714.9 356.0,2714.0 363.8,2756.0 371.5,2765.3 379.2,2813.9 386.9,2848.4 394.7,2857.8 402.4,2869.0 410.1,2876.5 417.8,2839.1 425.6,2837.2 433.3,2833.5 441.0,2863.4 448.7,2898.9 456.4,2898.9 464.2,2895.1 471.9,2911.9 479.6,2870.9 487.3,2859.6 495.1,2873.7 502.8,2911.9 510.5,2924.1 518.2,2948.4 525.9,2978.2 533.7,2968.9 541.4,2955.8 549.1,2976.4 556.8,2948.4 564.6,2931.6 572.3,2935.3 580.0,2933.4 587.7,2940.9 595.4,2946.5 603.2,2948.4 610.9,2922.2 618.6,2865.2 626.3,2812.0 634.1,2772.8 641.8,2750.4 649.5,2760.7 657.2,2750.4 664.9,2754.1 672.7,2741.0 680.4,2743.8 688.1,2705.6 695.8,2679.4 703.6,2655.1 711.3,2640.2 719.0,2635.5 726.7,2656.1 734.5,2634.6 742.2,2642.1 749.9,2634.6 757.6,2620.6 765.3,2596.3 773.1,2605.6 780.8,2601.9 788.5,2599.1 796.2,2600.0 804.0,2618.7 811.7,2615.9 819.4,2628.1 827.1,2628.1 834.8,2615.0 842.6,2603.8 850.3,2613.1 858.0,2598.2 865.7,2580.4 873.5,2570.2 881.2,2558.9 888.9,2549.6 896.6,2541.2 904.3,2530.0 912.1,2537.5 919.8,2547.7 927.5,2560.8 935.2,2558.0 943.0,2561.7 950.7,2570.2 958.4,2581.4 966.1,2600.0 973.8,2600.0 981.6,2615.0 989.3,2636.5 997.0,2651.4 1004.7,2662.6 1012.5,2673.8 1020.2,2688.8 1027.9,2702.8 1035.6,2732.6 1043.3,2766.3 1051.1,2775.6 1058.8,2797.1 1066.5,2817.6 1074.2,2832.6 1082.0,2838.2 1089.7,2834.4 1097.4,2858.7 1105.1,2857.8 1112.9,2855.9 1120.6,2849.4 1128.3,2843.8 1136.0,2847.5 1143.7,2853.1 1151.5,2848.4 1159.2,2841.0 1166.9,2845.6 1174.6,2853.1 1182.4,2843.8 1190.1,2840.0 1197.8,2835.4 1205.5,2847.5 1213.2,2857.8 1221.0,2867.1 1228.7,2875.5 1236.4,2888.6 1244.1,2886.7 1251.9,2874.6 1259.6,2865.2 1267.3,2868.1 1275.0,2872.7 1282.7,2872.7 1290.5,2870.9 1298.2,2878.3 1305.9,2879.3 1313.6,2860.6 1321.4,2842.8 1329.1,2825.1 1336.8,2814.8 1344.5,2838.2 1352.2,2846.6 1360.0,2865.2 1367.7,2896.1 1375.4,2918.5 1383.1,2922.2 1390.9,2914.7 1398.6,2917.5 1406.3,2903.5 1414.0,2888.6 1421.8,2882.1 1429.5,2876.5 1437.2,2878.3 1444.9,2882.1 1452.6,2883.0 1460.4,2881.1 1468.1,2881.1 1475.8,2881.1 1483.5,2878.3 1491.3,2874.6 1499.0,2869.9 1506.7,2876.5 1514.4,2878.3 1522.1,2878.3 1529.9,2876.5 1537.6,2878.3 1545.3,2888.6 1553.0,2890.5 1560.8,2903.5 1568.5,2904.5 1576.2,2908.2 1583.9,2899.8 1591.6,2897.9 1599.4,2899.8 1607.1,2893.3 1614.8,2889.5 1622.5,2885.8 1630.3,2882.1 1638.0,2897.0 1645.7,2885.8 1653.4,2897.0 1661.2,2887.7 1668.9,2883.0 1676.6,2893.3 1684.3,2885.8 1692.0,2880.2 1699.8,2890.5 1707.5,2905.4 1715.2,2912.9 1722.9,2908.2 1730.7,2918.5 1738.4,2919.4 1746.1,2903.5 1753.8,2905.4 1761.5,2908.2 1769.3,2907.3 1777.0,2923.1 1784.7,2921.3 1792.4,2923.1 1800.2,2922.2 1807.9,2911.0 1815.6,2896.1"/>
<path d="M194.2,1931.45 V3244.35 M191.45,3241.6 H1818.35" stroke="#000" stroke-width="5.5" fill="none"/>
<path d="M167.7,3241.59 H194.2" stroke="#000" stroke-width="5.5"/>
<path d="M181.1,3148.20 H194.2" stroke="#000" stroke-width="5.5"/>
<path d="M167.7,3054.82 H194.2" stroke="#000" stroke-width="5.5"/>
<path d="M181.1,2961.44 H194.2" stroke="#000" stroke-width="5.5"/>
<path d="M167.7,2868.05 H194.2" stroke="#000" stroke-width="5.5"/>
<path d="M181.1,2774.66 H194.2" stroke="#000" stroke-width="5.5"/>
<path d="M167.7,2681.28 H194.2" stroke="#000" stroke-width="5.5"/>
<path d="M181.1,2587.89 H194.2" stroke="#000" stroke-width="5.5"/>
<path d="M167.7,2494.51 H194.2" stroke="#000" stroke-width="5.5"/>
<path d="M181.1,2401.12 H194.2" stroke="#000" stroke-width="5.5"/>
<path d="M167.7,2307.74 H194.2" stroke="#000" stroke-width="5.5"/>
<path d="M181.1,2214.36 H194.2" stroke="#000" stroke-width="5.5"/>
<path d="M167.7,2120.97 H194.2" stroke="#000" stroke-width="5.5"/>
<path d="M181.1,2027.59 H194.2" stroke="#000" stroke-width="5.5"/>
<path d="M167.7,1934.20 H194.2" stroke="#000" stroke-width="5.5"/>
<path d="M271.10,3241.6 V3265.6" stroke="#000" stroke-width="5.5"/>
<path d="M464.16,3241.6 V3253.6" stroke="#000" stroke-width="5.5"/>
<path d="M657.23,3241.6 V3265.6" stroke="#000" stroke-width="5.5"/>
<path d="M850.29,3241.6 V3253.6" stroke="#000" stroke-width="5.5"/>
<path d="M1043.35,3241.6 V3265.6" stroke="#000" stroke-width="5.5"/>
<path d="M1236.41,3241.6 V3253.6" stroke="#000" stroke-width="5.5"/>
<path d="M1429.47,3241.6 V3265.6" stroke="#000" stroke-width="5.5"/>
<path d="M1622.54,3241.6 V3253.6" stroke="#000" stroke-width="5.5"/>
<path d="M1815.60,3241.6 V3265.6" stroke="#000" stroke-width="5.5"/>
<text x="167.80" y="1952.80" text-anchor="end" font-family="'Liberation Sans', Arial, sans-serif" font-size="56" stroke="#000" stroke-width="0.45">10</text>
<text x="167.80" y="2139.70" text-anchor="end" font-family="'Liberation Sans', Arial, sans-serif" font-size="56" stroke="#000" stroke-width="0.45">8</text>
<text x="168.30" y="2330.70" text-anchor="end" font-family="'Liberation Sans', Arial, sans-serif" font-size="56" stroke="#000" stroke-width="0.45">6</text>
<text x="168.00" y="2514.70" text-anchor="end" font-family="'Liberation Sans', Arial, sans-serif" font-size="56" stroke="#000" stroke-width="0.45">4</text>
<text x="167.50" y="2701.70" text-anchor="end" font-family="'Liberation Sans', Arial, sans-serif" font-size="56" stroke="#000" stroke-width="0.45">2</text>
<text x="168.00" y="2887.80" text-anchor="end" font-family="'Liberation Sans', Arial, sans-serif" font-size="56" stroke="#000" stroke-width="0.45">0</text>
<text x="148.50" y="3075.80" text-anchor="end" font-family="'Liberation Sans', Arial, sans-serif" font-size="56" stroke="#000" stroke-width="0.45">−1</text>
<text x="148.50" y="3260.80" text-anchor="end" font-family="'Liberation Sans', Arial, sans-serif" font-size="56" stroke="#000" stroke-width="0.45">−2</text>
<text x="268.60" y="3317.80" text-anchor="middle" font-family="'Liberation Sans', Arial, sans-serif" font-size="56" stroke="#000" stroke-width="0.45">200</text>
<text x="654.73" y="3317.80" text-anchor="middle" font-family="'Liberation Sans', Arial, sans-serif" font-size="56" stroke="#000" stroke-width="0.45">250</text>
<text x="1040.85" y="3317.80" text-anchor="middle" font-family="'Liberation Sans', Arial, sans-serif" font-size="56" stroke="#000" stroke-width="0.45">300</text>
<text x="1426.97" y="3317.80" text-anchor="middle" font-family="'Liberation Sans', Arial, sans-serif" font-size="56" stroke="#000" stroke-width="0.45">350</text>
<text x="1813.10" y="3317.80" text-anchor="middle" font-family="'Liberation Sans', Arial, sans-serif" font-size="56" stroke="#000" stroke-width="0.45">400</text>
<text x="802.70" y="3384.00" font-family="'Liberation Sans', Arial, sans-serif" font-weight="bold" font-size="63" textLength="490" lengthAdjust="spacingAndGlyphs">Wavelength (nm)</text>
<text transform="translate(97.20,2739.90) rotate(-90)" font-family="'Liberation Sans', Arial, sans-serif" font-weight="bold" font-size="63" textLength="305" lengthAdjust="spacingAndGlyphs">CD (mdeg)</text>
<rect x="1265.10" y="2190.20" width="287.40" height="297.80" fill="#fff"/>
<path d="M1264.15,2190.20 H1553.80" stroke="#777" stroke-width="2.9"/>
<path d="M1264.15,2488.00 H1553.80" stroke="#1e1e1e" stroke-width="1.8"/>
<path d="M1265.10,2188.75 V2488.90" stroke="#1e1e1e" stroke-width="1.9"/>
<path d="M1552.50,2188.75 V2488.90" stroke="#777" stroke-width="2.6"/>
<path d="M1271.7,2217.2 H1358.4" stroke="#505050" stroke-width="5.9" stroke-linecap="round"/>
<text x="1368.80" y="2230.2" font-family="'Liberation Sans', Arial, sans-serif" font-size="39" stroke="#000" stroke-width="0.4" textLength="177.5" lengthAdjust="spacingAndGlyphs">Free DNA</text>
<path d="M1271.7,2266.1 H1358.4" stroke="#F54343" stroke-width="5.9" stroke-linecap="round"/>
<text x="1368.80" y="2279.1" font-family="'Liberation Sans', Arial, sans-serif" font-size="39" stroke="#000" stroke-width="0.4" textLength="171.3" lengthAdjust="spacingAndGlyphs">D/N = 1.0</text>
<path d="M1271.7,2315.0 H1358.4" stroke="#1B6AE0" stroke-width="5.9" stroke-linecap="round"/>
<text x="1368.80" y="2328.0" font-family="'Liberation Sans', Arial, sans-serif" font-size="39" stroke="#000" stroke-width="0.4" textLength="171.3" lengthAdjust="spacingAndGlyphs">D/N = 2.0</text>
<path d="M1271.7,2363.9 H1358.4" stroke="#32AF6D" stroke-width="5.9" stroke-linecap="round"/>
<text x="1368.80" y="2376.9" font-family="'Liberation Sans', Arial, sans-serif" font-size="39" stroke="#000" stroke-width="0.4" textLength="171.3" lengthAdjust="spacingAndGlyphs">D/N = 3.0</text>
<path d="M1271.7,2412.8 H1358.4" stroke="#B375DF" stroke-width="5.9" stroke-linecap="round"/>
<text x="1368.80" y="2425.8" font-family="'Liberation Sans', Arial, sans-serif" font-size="39" stroke="#000" stroke-width="0.4" textLength="171.3" lengthAdjust="spacingAndGlyphs">D/N = 4.0</text>
<path d="M1271.7,2461.7 H1358.4" stroke="#CF9B00" stroke-width="5.9" stroke-linecap="round"/>
<text x="1368.80" y="2474.7" font-family="'Liberation Sans', Arial, sans-serif" font-size="39" stroke="#000" stroke-width="0.4" textLength="171.3" lengthAdjust="spacingAndGlyphs">D/N = 5.0</text>
<text x="1025.80" y="3545.70" font-family="'Liberation Serif', 'Times New Roman', serif" font-size="84">(</text>
<text x="1054.60" y="3545.70" font-family="'Liberation Serif', 'Times New Roman', serif" font-weight="bold" font-size="88" textLength="51.7" lengthAdjust="spacingAndGlyphs">B</text>
<text x="1108.70" y="3545.70" font-family="'Liberation Serif', 'Times New Roman', serif" font-size="84">)</text>
</svg></body></html>
